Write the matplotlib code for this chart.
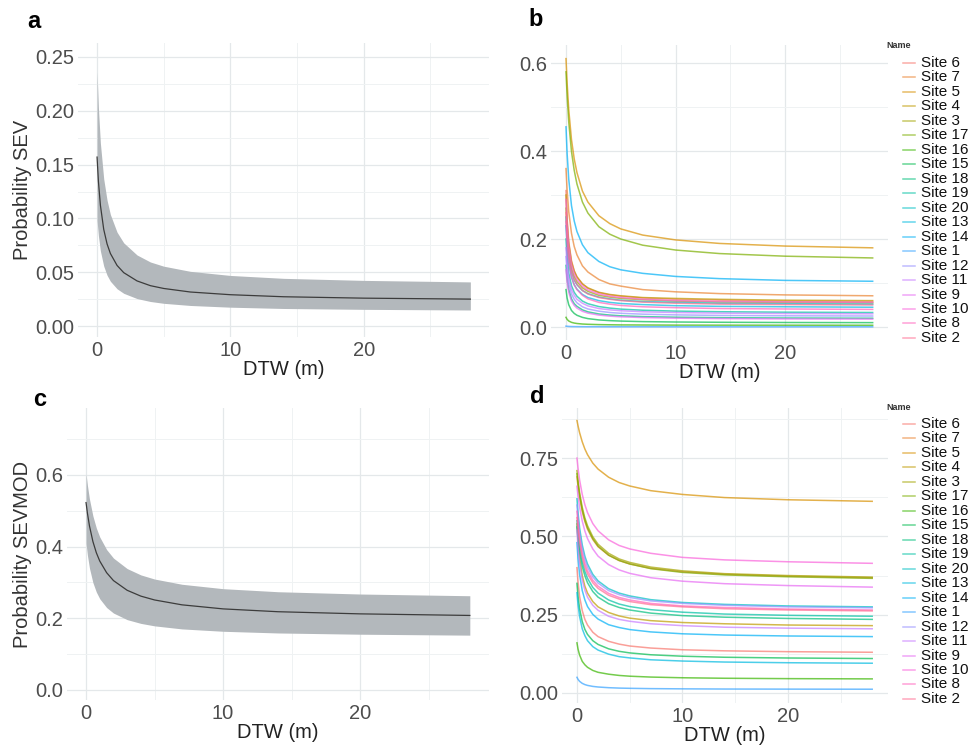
import matplotlib
matplotlib.use("Agg")
import matplotlib.pyplot as plt
from matplotlib.lines import Line2D
from matplotlib.ticker import FixedLocator, FormatStrFormatter

# ---------------------------------------------------------------- data
dtw = [0, 0.1, 0.25, 0.5, 0.75, 1, 1.5, 2, 3, 4, 5, 7, 10, 14, 20, 28]

# panel a: pooled SEV model, fit and confidence band
sev_fit = [0.157, 0.1346, 0.1123, 0.0898, 0.0763, 0.0674, 0.0563, 0.0496,
           0.0419, 0.0375, 0.0349, 0.0316, 0.0291, 0.0272, 0.0259, 0.025]
sev_upper = [0.236, 0.2029, 0.1699, 0.1367, 0.1169, 0.1036, 0.0872, 0.0773,
             0.0660, 0.0595, 0.0556, 0.0508, 0.0470, 0.0443, 0.0424, 0.041]
sev_lower = [0.098, 0.0839, 0.0698, 0.0557, 0.0472, 0.0416, 0.0346, 0.0304,
             0.0255, 0.0228, 0.0211, 0.0191, 0.0175, 0.0163, 0.0155, 0.0149]

# panel c: pooled SEVMOD model, fit and confidence band
sevmod_fit = [0.523, 0.4934, 0.4578, 0.4143, 0.3831, 0.3598, 0.3274, 0.3053,
              0.2782, 0.2619, 0.2512, 0.2376, 0.2263, 0.2184, 0.2124, 0.208]
sevmod_upper = [0.603, 0.571, 0.5326, 0.4857, 0.452, 0.4269, 0.3919, 0.3681,
                0.3388, 0.3211, 0.3096, 0.295, 0.2827, 0.2742, 0.2678, 0.263]
sevmod_lower = [0.409, 0.3762, 0.3399, 0.2997, 0.2733, 0.2546, 0.2301, 0.2147,
                0.1963, 0.1858, 0.1789, 0.1704, 0.1638, 0.1591, 0.1556, 0.153]

sites = ["Site 6", "Site 7", "Site 5", "Site 4", "Site 3", "Site 17", "Site 16",
         "Site 15", "Site 18", "Site 19", "Site 20", "Site 13", "Site 14", "Site 1",
         "Site 12", "Site 11", "Site 9", "Site 10", "Site 8", "Site 2"]

# panel b: per-site SEV curves
sev_site = {
    "Site 6":  [0.310, 0.246, 0.194, 0.151, 0.128, 0.114, 0.098, 0.088, 0.078, 0.073, 0.070, 0.066, 0.063, 0.061, 0.059, 0.058],
    "Site 7":  [0.360, 0.311, 0.262, 0.213, 0.183, 0.164, 0.139, 0.125, 0.108, 0.098, 0.093, 0.085, 0.080, 0.076, 0.073, 0.071],
    "Site 5":  [0.610, 0.555, 0.494, 0.426, 0.382, 0.351, 0.309, 0.284, 0.253, 0.235, 0.223, 0.209, 0.198, 0.190, 0.184, 0.180],
    "Site 4":  [0.300, 0.239, 0.190, 0.148, 0.127, 0.114, 0.098, 0.089, 0.079, 0.074, 0.071, 0.067, 0.065, 0.063, 0.061, 0.060],
    "Site 3":  [0.270, 0.216, 0.171, 0.134, 0.115, 0.103, 0.089, 0.081, 0.072, 0.068, 0.065, 0.062, 0.059, 0.057, 0.056, 0.055],
    "Site 17": [0.580, 0.526, 0.466, 0.399, 0.356, 0.325, 0.284, 0.259, 0.228, 0.211, 0.200, 0.186, 0.175, 0.167, 0.161, 0.157],
    "Site 16": [0.022, 0.0174, 0.0137, 0.0106, 0.009, 0.008, 0.0068, 0.0062, 0.0055, 0.0051, 0.0048, 0.0046, 0.0043, 0.0042, 0.0041, 0.004],
    "Site 15": [0.085, 0.066, 0.0506, 0.0376, 0.0309, 0.0267, 0.0219, 0.0191, 0.0161, 0.0145, 0.0135, 0.0123, 0.0114, 0.0108, 0.0103, 0.010],
    "Site 18": [0.140, 0.110, 0.085, 0.064, 0.053, 0.047, 0.039, 0.0345, 0.0297, 0.0272, 0.0255, 0.0237, 0.0223, 0.0213, 0.0205, 0.020],
    "Site 19": [0.200, 0.158, 0.123, 0.094, 0.079, 0.070, 0.059, 0.053, 0.0465, 0.043, 0.0407, 0.0382, 0.0362, 0.0348, 0.0337, 0.033],
    "Site 20": [0.250, 0.200, 0.159, 0.125, 0.107, 0.096, 0.083, 0.076, 0.068, 0.064, 0.061, 0.058, 0.056, 0.054, 0.053, 0.052],
    "Site 13": [0.230, 0.183, 0.145, 0.113, 0.096, 0.086, 0.074, 0.067, 0.060, 0.056, 0.0535, 0.051, 0.0485, 0.047, 0.046, 0.045],
    "Site 14": [0.455, 0.395, 0.336, 0.276, 0.241, 0.217, 0.187, 0.169, 0.149, 0.137, 0.130, 0.122, 0.115, 0.110, 0.106, 0.104],
    "Site 1":  [0.002, 0.0017, 0.0014, 0.0011, 0.001, 0.0009, 0.0008, 0.0007, 0.0007, 0.0006, 0.0006, 0.0006, 0.0005, 0.0005, 0.0005, 0.0005],
    "Site 12": [0.160, 0.126, 0.098, 0.075, 0.063, 0.055, 0.046, 0.041, 0.036, 0.033, 0.0312, 0.0292, 0.0276, 0.0264, 0.0255, 0.025],
    "Site 11": [0.180, 0.142, 0.111, 0.085, 0.072, 0.063, 0.054, 0.048, 0.042, 0.039, 0.037, 0.0347, 0.0329, 0.0316, 0.0306, 0.030],
    "Site 9":  [0.130, 0.102, 0.079, 0.059, 0.049, 0.043, 0.0357, 0.0316, 0.0271, 0.0247, 0.0232, 0.0215, 0.0201, 0.0192, 0.0184, 0.018],
    "Site 10": [0.290, 0.231, 0.183, 0.142, 0.121, 0.108, 0.093, 0.084, 0.075, 0.070, 0.067, 0.063, 0.060, 0.058, 0.057, 0.056],
    "Site 8":  [0.240, 0.189, 0.148, 0.114, 0.096, 0.085, 0.072, 0.064, 0.056, 0.052, 0.049, 0.046, 0.044, 0.042, 0.041, 0.040],
    "Site 2":  [0.260, 0.207, 0.164, 0.127, 0.108, 0.097, 0.083, 0.075, 0.067, 0.063, 0.060, 0.0565, 0.054, 0.052, 0.051, 0.050],
}

# panel d: per-site SEVMOD curves
sevmod_site = {
    "Site 6":  [0.400, 0.354, 0.308, 0.263, 0.235, 0.217, 0.194, 0.180, 0.165, 0.156, 0.150, 0.1435, 0.138, 0.1346, 0.1319, 0.130],
    "Site 7":  [0.690, 0.660, 0.623, 0.579, 0.547, 0.523, 0.490, 0.467, 0.440, 0.423, 0.412, 0.398, 0.387, 0.379, 0.373, 0.368],
    "Site 5":  [0.870, 0.853, 0.831, 0.802, 0.779, 0.761, 0.734, 0.715, 0.689, 0.672, 0.661, 0.646, 0.634, 0.624, 0.617, 0.612],
    "Site 4":  [0.540, 0.485, 0.430, 0.375, 0.341, 0.319, 0.292, 0.275, 0.257, 0.246, 0.239, 0.231, 0.225, 0.221, 0.217, 0.215],
    "Site 3":  [0.710, 0.678, 0.640, 0.593, 0.559, 0.534, 0.499, 0.475, 0.446, 0.428, 0.417, 0.402, 0.390, 0.381, 0.375, 0.370],
    "Site 17": [0.700, 0.669, 0.631, 0.585, 0.552, 0.527, 0.493, 0.469, 0.440, 0.423, 0.412, 0.397, 0.385, 0.377, 0.371, 0.366],
    "Site 16": [0.160, 0.140, 0.121, 0.101, 0.090, 0.082, 0.072, 0.066, 0.060, 0.056, 0.0536, 0.0508, 0.0486, 0.047, 0.0458, 0.045],
    "Site 15": [0.350, 0.309, 0.269, 0.228, 0.203, 0.187, 0.167, 0.155, 0.141, 0.133, 0.128, 0.122, 0.1174, 0.1141, 0.1117, 0.110],
    "Site 18": [0.530, 0.492, 0.450, 0.404, 0.374, 0.352, 0.324, 0.306, 0.285, 0.273, 0.265, 0.255, 0.247, 0.242, 0.238, 0.235],
    "Site 19": [0.550, 0.511, 0.468, 0.420, 0.388, 0.366, 0.337, 0.319, 0.297, 0.284, 0.276, 0.266, 0.258, 0.252, 0.248, 0.245],
    "Site 20": [0.620, 0.576, 0.527, 0.473, 0.437, 0.412, 0.379, 0.358, 0.333, 0.319, 0.310, 0.298, 0.289, 0.283, 0.278, 0.275],
    "Site 13": [0.320, 0.282, 0.244, 0.205, 0.183, 0.167, 0.148, 0.137, 0.124, 0.116, 0.112, 0.106, 0.102, 0.0988, 0.0966, 0.095],
    "Site 14": [0.480, 0.429, 0.378, 0.327, 0.297, 0.276, 0.251, 0.236, 0.218, 0.209, 0.2025, 0.195, 0.189, 0.185, 0.182, 0.180],
    "Site 1":  [0.050, 0.0435, 0.0371, 0.0307, 0.0268, 0.0242, 0.021, 0.0191, 0.0169, 0.0156, 0.0149, 0.0139, 0.0132, 0.0126, 0.0123, 0.012],
    "Site 12": [0.600, 0.558, 0.511, 0.460, 0.426, 0.402, 0.371, 0.351, 0.327, 0.314, 0.305, 0.294, 0.286, 0.280, 0.275, 0.272],
    "Site 11": [0.520, 0.466, 0.413, 0.360, 0.328, 0.306, 0.280, 0.264, 0.245, 0.235, 0.229, 0.221, 0.215, 0.210, 0.207, 0.205],
    "Site 9":  [0.660, 0.630, 0.593, 0.549, 0.517, 0.493, 0.460, 0.437, 0.410, 0.393, 0.382, 0.368, 0.357, 0.349, 0.343, 0.338],
    "Site 10": [0.750, 0.718, 0.680, 0.634, 0.601, 0.576, 0.541, 0.518, 0.489, 0.471, 0.460, 0.446, 0.433, 0.425, 0.419, 0.414],
    "Site 8":  [0.580, 0.540, 0.495, 0.445, 0.413, 0.390, 0.360, 0.341, 0.318, 0.305, 0.297, 0.286, 0.278, 0.273, 0.268, 0.265],
    "Site 2":  [0.560, 0.522, 0.480, 0.433, 0.402, 0.380, 0.352, 0.334, 0.312, 0.300, 0.292, 0.282, 0.275, 0.269, 0.265, 0.262],
}

# ggplot-style hue palette, one colour per site in legend order
site_colors = ["#F8766D", "#EA8331", "#D89000", "#C09B00", "#A3A500", "#7CAE00",
               "#39B600", "#00BB4E", "#00BF7D", "#00C1A3", "#00BFC4", "#00BAE0",
               "#00B0F6", "#35A2FF", "#9590FF", "#C77CFF", "#E76BF3", "#FA62DB",
               "#FF62BC", "#FF6C91"]

# ---------------------------------------------------------------- style
plt.rcParams["font.family"] = ["Liberation Sans", "DejaVu Sans"]
W, H = 969, 747
fig = plt.figure(figsize=(W / 100, H / 100), dpi=100)
fig.patch.set_facecolor("white")

GRID_MAJOR = "#E4E8EA"
GRID_MINOR = "#EFF2F3"
TICK_COLOR = "#4D4D4D"


def px_axes(left, top, right, bottom):
    return fig.add_axes([left / W, 1 - bottom / H, (right - left) / W, (bottom - top) / H])


def style(ax, xlim, ylim, yticks, yminor, yfmt):
    ax.set_xlim(*xlim)
    ax.set_ylim(*ylim)
    ax.xaxis.set_major_locator(FixedLocator([0, 10, 20]))
    ax.xaxis.set_minor_locator(FixedLocator([5, 15, 25]))
    ax.yaxis.set_major_locator(FixedLocator(yticks))
    ax.yaxis.set_minor_locator(FixedLocator(yminor))
    ax.yaxis.set_major_formatter(FormatStrFormatter(yfmt))
    ax.grid(which="major", color=GRID_MAJOR, linewidth=0.9)
    ax.grid(which="minor", color=GRID_MINOR, linewidth=0.7)
    ax.set_axisbelow(True)
    for s in ax.spines.values():
        s.set_visible(False)
    ax.tick_params(which="both", length=0, pad=3, labelsize=14.5, labelcolor=TICK_COLOR)
    ax.set_xlabel("DTW (m)", fontsize=14.5, color="#222222", labelpad=0)


def band_panel(ax, fit, lo, hi):
    ax.fill_between(dtw, lo, hi, color="#B3B8BC", linewidth=0, zorder=2)
    ax.plot(dtw, fit, color="#3C3C3C", linewidth=0.9, zorder=3)


def site_panel(ax, data):
    for name, col in zip(sites, site_colors):
        ax.plot(dtw, data[name], color=col, alpha=0.7, linewidth=1.1, zorder=2)


def site_legend(title_y, first_y, step=14.47):
    fig.text(886 / W, 1 - title_y / H, "Name", fontsize=6.5, fontweight="bold",
             color="#333333", ha="left", va="center")
    for i, (name, col) in enumerate(zip(sites, site_colors)):
        y = 1 - (first_y + i * step) / H
        fig.add_artist(Line2D([903 / W, 915 / W], [y, y], color=col, alpha=0.6,
                              linewidth=1.1, transform=fig.transFigure))
        fig.text(921 / W, y, name, fontsize=11, color="#111111", ha="left", va="center")


# panel a
ax_a = px_axes(78, 43, 489, 337)
band_panel(ax_a, sev_fit, sev_lower, sev_upper)
style(ax_a, (-1.43, 29.4), (-0.0102, 0.263),
      [0, 0.05, 0.10, 0.15, 0.20, 0.25], [0.025, 0.075, 0.125, 0.175, 0.225], "%.2f")
ax_a.set_ylabel("Probability SEV", fontsize=14.5, color="#333333", labelpad=2)

# panel b
ax_b = px_axes(551, 45, 888, 340)
site_panel(ax_b, sev_site)
style(ax_b, (-1.37, 29.4), (-0.0295, 0.641),
      [0, 0.2, 0.4, 0.6], [0.1, 0.3, 0.5], "%.1f")
site_legend(46, 63)

# panel c
ax_c = px_axes(67, 408, 489, 700)
band_panel(ax_c, sevmod_fit, sevmod_lower, sevmod_upper)
style(ax_c, (-1.39, 29.4), (-0.028, 0.787),
      [0, 0.2, 0.4, 0.6], [0.1, 0.3, 0.5, 0.7], "%.1f")
ax_c.set_ylabel("Probability SEVMOD", fontsize=14.5, color="#333333", labelpad=2)

# panel d
ax_d = px_axes(562, 408, 888, 703)
site_panel(ax_d, sevmod_site)
style(ax_d, (-1.42, 29.5), (-0.032, 0.91),
      [0, 0.25, 0.50, 0.75], [0.125, 0.375, 0.625, 0.875], "%.2f")
site_legend(408, 424)

# panel letters
for letter, x, y in [("a", 27, 22), ("b", 528, 19), ("c", 33, 400), ("d", 530, 397)]:
    fig.text(x / W, 1 - y / H, letter, fontsize=17, fontweight="bold", va="center", ha="left")

fig.savefig("out.png", dpi=100, facecolor="white")
